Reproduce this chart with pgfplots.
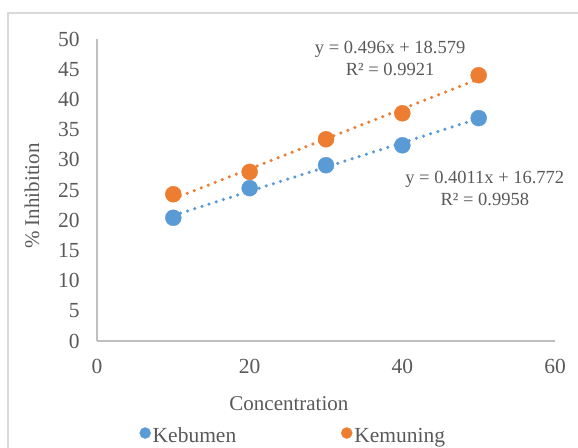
\documentclass[border=0pt]{standalone}
\usepackage{fontspec}
\setmainfont{Liberation Serif}
\usepackage{pgfplots}
\pgfplotsset{compat=1.18}
\definecolor{kblue}{HTML}{5B9BD5}
\definecolor{korange}{HTML}{ED7D31}
\definecolor{tgray}{HTML}{595959}
\definecolor{agray}{HTML}{BFBFBF}
\definecolor{bgray}{HTML}{D9D9D9}
\begin{document}
\fontsize{21.5bp}{25bp}\selectfont
\begin{tikzpicture}[x=1bp,y=1bp]
\useasboundingbox (0,0) rectangle (578,448);
\clip (0,0) rectangle (578,448);
\draw[bgray, line width=1.5bp] (8,-20) -- (8,435) -- (600,435);
\begin{axis}[
  at={(97bp,107bp)}, anchor=south west,
  scale only axis, width=458bp, height=302bp,
  xmin=0, xmax=60, ymin=0, ymax=50,
  axis lines*=left,
  axis line style={agray, line width=1.5bp},
  xtick={0,20,40,60}, ytick={0,5,...,50},
  major tick length=0pt,
  /pgf/number format/assume math mode=true,
  tick label style={text=tgray, font=\fontsize{21.5bp}{25bp}\selectfont},
  xticklabel style={yshift=-11bp},
  yticklabel style={xshift=-10bp},
  xlabel={Concentration},
  ylabel={\% Inhibition},
  label style={text=tgray, font=\fontsize{21bp}{25bp}\selectfont},
  xlabel style={at={(axis description cs:0.419,-0.209)}, anchor=center},
  ylabel style={at={(axis description cs:-0.142,0.48)}, anchor=center},
  legend style={at={(axis description cs:0.0928,-0.318)}, anchor=west,
    draw=none, fill=none, text=tgray, font=\fontsize{21.5bp}{25bp}\selectfont,
    legend columns=2,
    /tikz/every even column/.append style={column sep=103bp},
    inner sep=0pt},
  legend image code/.code={\draw[#1, mark size=5.5bp] plot coordinates {(0bp,4bp)};},
  clip=false,
]
\addplot[korange, line width=3.5bp, line cap=round, dash pattern=on 0bp off 7.5bp, forget plot]
  coordinates {(10,23.539) (50,43.379)};
\addplot[kblue, line width=3.5bp, line cap=round, dash pattern=on 0bp off 7.5bp, forget plot]
  coordinates {(10,20.783) (50,36.827)};
\addplot[only marks, mark=*, mark size=8bp, mark options={draw=kblue, fill=kblue}]
  coordinates {(10,20.4) (20,25.3) (30,29.1) (40,32.4) (50,36.9)};
\addlegendentry{Kebumen}
\addplot[only marks, mark=*, mark size=8bp, mark options={draw=korange, fill=korange}]
  coordinates {(10,24.3) (20,28.0) (30,33.4) (40,37.7) (50,44.0)};
\addlegendentry{Kemuning}
\node[text=tgray, align=center, font=\fontsize{18.5bp}{22bp}\selectfont] at (axis cs:38.4,46.7) {y = 0.496x + 18.579\\R² = 0.9921};
\node[text=tgray, align=center, font=\fontsize{18.5bp}{22bp}\selectfont] at (axis cs:50.8,25.3) {y = 0.4011x + 16.772\\R² = 0.9958};
\end{axis}
\end{tikzpicture}
\end{document}
